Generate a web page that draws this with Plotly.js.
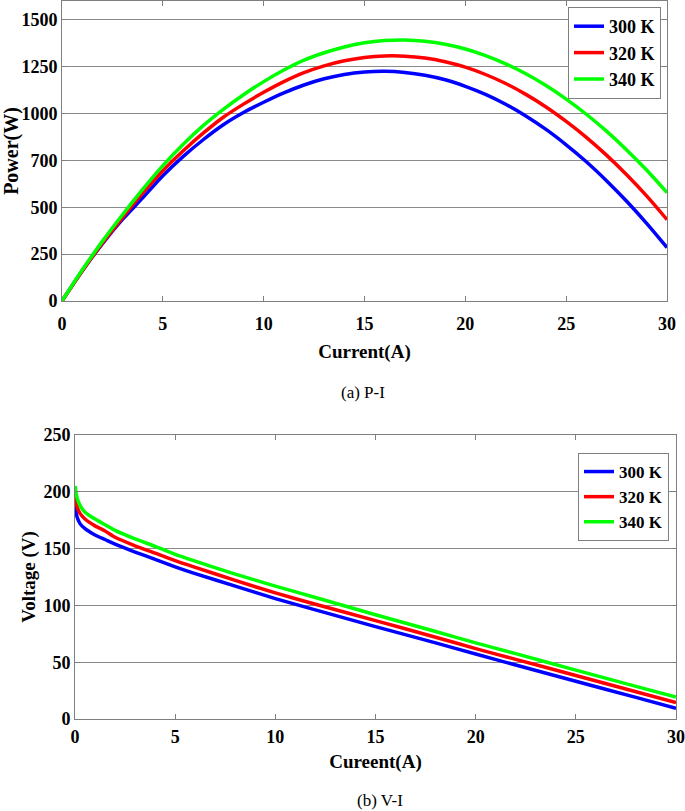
<!DOCTYPE html>
<html>
<head>
<meta charset="utf-8">
<script src="https://cdn.plot.ly/plotly-3.0.1.min.js"></script>
<style>html,body{margin:0;padding:0;background:#fff;}#chart{width:685px;height:811px;}</style>
</head>
<body>
<div id="chart"></div>
<script>
// ---- P-I data (top panel) ----
const currentP = [0,1,2,3,4,5,6,7,8,9,10,11,12,13,14,15,16,17,18,19,20,21,22,23,24,25,26,27,28,29,30];
const power300 = [0,160,305,435,550,668,770,860,940,1005,1060,1110,1152,1185,1208,1221,1225,1219,1204,1180,1145,1102,1049,987,915,833,743,642,532,413,285];
const power320 = [0,160,308,445,575,695,800,895,980,1050,1113,1170,1218,1254,1281,1299,1307,1306,1296,1276,1247,1208,1160,1102,1035,958,873,778,673,559,434];
const power340 = [0,165,318,460,595,722,835,935,1022,1100,1170,1232,1285,1324,1355,1377,1389,1392,1385,1369,1344,1309,1265,1212,1149,1077,996,906,806,697,578];

// ---- V-I data (bottom panel) ----
const currentV = [0,0.1,0.25,0.5,1,1.5,2,3,4,5,6,8,10,12,15,18,20,22,25,28,30];
const volt300 = [188,178,172,167.5,162,158,154,147,140.5,134,128,117,106,96,81.3,67,57.2,47.5,33.2,19,9.4];
const volt320 = [197,187,181,176,170,165.5,160,152.5,146,139.4,133.5,122,111,101,86.6,72,62,52.5,38.3,24,14.4];
const volt340 = [205,195,188,182,176,171,166,158.5,152,145,139,127.5,117,107,91.8,77,67,57.5,43,28.7,19.3];

const seriesNames = ['300 K','320 K','340 K'];
const seriesColors = ['#0000ff','#ff0000','#00ff00'];

const xTicks = [0,5,10,15,20,25,30];
const pTickVals = [0,250,500,750,1000,1250,1500];
const pTickText = ['0','250','500','700','1000','1250','1500'];
const vTickVals = [0,50,100,150,200,250];

const captionTop = '(a) P-I';
const captionBottom = '(b) V-I';

const FONT = 'Liberation Serif, Times New Roman, serif';
const boldFont = (s) => ({family: FONT, size: s, color: '#000', weight: 'bold'});

const pSets = [power300, power320, power340];
const vSets = [volt300, volt320, volt340];
const traces = [];
pSets.forEach((ys, i) => traces.push({
  x: currentP, y: ys, type: 'scatter', mode: 'lines', name: seriesNames[i],
  line: {color: seriesColors[i], width: 3.5, shape: 'spline', smoothing: 0.8},
  xaxis: 'x', yaxis: 'y', legend: 'legend'
}));
vSets.forEach((ys, i) => traces.push({
  x: currentV, y: ys, type: 'scatter', mode: 'lines', name: seriesNames[i],
  line: {color: seriesColors[i], width: 3.5, shape: 'spline', smoothing: 0.6},
  xaxis: 'x2', yaxis: 'y2', legend: 'legend2'
}));

const axisCommon = {
  showline: true, mirror: 'ticks', linecolor: '#7f7f7f', linewidth: 1,
  ticks: 'inside', ticklen: 5, tickcolor: '#7f7f7f', zeroline: false,
  tickfont: boldFont(18), automargin: false
};

const W = 685, H = 811;
const layout = {
  width: W, height: H,
  margin: {l: 0, r: 0, t: 0, b: 0},
  paper_bgcolor: '#fff', plot_bgcolor: '#fff',
  showlegend: true,
  xaxis: Object.assign({}, axisCommon, {
    domain: [62/W, 667/W], range: [0, 30], tickvals: xTicks, showgrid: false,
    anchor: 'y', ticklabelstandoff: 6,
    title: {text: 'Current(A)', font: boldFont(19), standoff: 12}
  }),
  yaxis: Object.assign({}, axisCommon, {
    domain: [1 - 301/H, 1 - 1/H], range: [0, 1600], tickvals: pTickVals, ticktext: pTickText,
    showgrid: true, gridcolor: '#8a8a8a', gridwidth: 1, anchor: 'x',
    title: {text: 'Power(W)', font: boldFont(20), standoff: 2}
  }),
  xaxis2: Object.assign({}, axisCommon, {
    domain: [75/W, 676/W], range: [0, 30], tickvals: xTicks, showgrid: false,
    anchor: 'y2', ticklabelstandoff: 1,
    title: {text: 'Cureent(A)', font: boldFont(19), standoff: 9}
  }),
  yaxis2: Object.assign({}, axisCommon, {
    domain: [1 - 719/H, 1 - 435/H], range: [0, 250], tickvals: vTickVals,
    showgrid: true, gridcolor: '#8a8a8a', gridwidth: 1, anchor: 'x2',
    title: {text: 'Voltage (V)', font: boldFont(19), standoff: 2}
  }),
  legend: {
    x: 661/W, xanchor: 'right', y: 1 - 7/H, yanchor: 'top',
    bgcolor: '#fff', bordercolor: '#7f7f7f', borderwidth: 1,
    font: boldFont(18), tracegroupgap: 0, itemwidth: 30
  },
  legend2: {
    x: 669/W, xanchor: 'right', y: 1 - 453/H, yanchor: 'top',
    bgcolor: '#fff', bordercolor: '#7f7f7f', borderwidth: 1,
    font: boldFont(17), tracegroupgap: 0, itemwidth: 30
  },
  annotations: [
    {text: captionTop, xref: 'paper', yref: 'paper', x: 363/W, y: 1 - 392/H,
     xanchor: 'center', yanchor: 'middle',
     showarrow: false, font: {family: FONT, size: 17, color: '#000'}},
    {text: captionBottom, xref: 'paper', yref: 'paper', x: 380/W, y: 1 - 800/H,
     xanchor: 'center', yanchor: 'middle',
     showarrow: false, font: {family: FONT, size: 17, color: '#000'}}
  ]
};

Plotly.newPlot('chart', traces, layout, {displayModeBar: false, staticPlot: true});
</script>
</body>
</html>
